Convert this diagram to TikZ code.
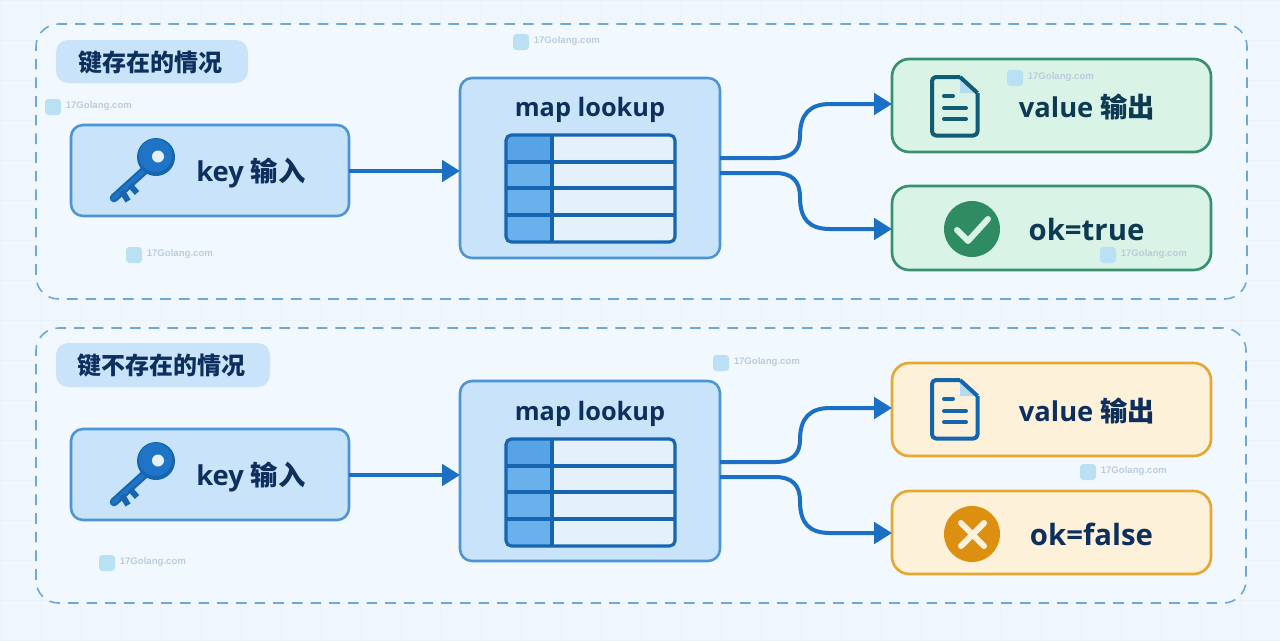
\documentclass[tikz,border=0pt]{standalone}
\usepackage{fontspec}
\setmainfont{Open Sans}
\newfontfamily\cjk{Noto Sans CJK SC}
\newfontfamily\wmfont{Liberation Sans}
\usetikzlibrary{arrows.meta,calc}
\definecolor{bgc}{HTML}{EFF6FD}
\definecolor{panelc}{HTML}{F2F8FF}
\definecolor{gridc}{HTML}{EAF2FA}
\definecolor{dashc}{HTML}{6BA8DE}
\definecolor{pillc}{HTML}{C8E3FA}
\definecolor{bluefill}{HTML}{C9E3FB}
\definecolor{blueline}{HTML}{4C94D6}
\definecolor{greenfill}{HTML}{D9F3E6}
\definecolor{greenline}{HTML}{38906D}
\definecolor{orangefill}{HTML}{FDF1DA}
\definecolor{orangeline}{HTML}{E6A830}
\definecolor{inkc}{HTML}{0D2F5E}
\definecolor{inkg}{HTML}{0C3A52}
\definecolor{wire}{HTML}{1B6FC4}
\definecolor{tabline}{HTML}{1565B0}
\definecolor{tabfill}{HTML}{E4F1FD}
\definecolor{colfill}{HTML}{69B0EC}
\definecolor{coltop}{HTML}{58A3E5}
\definecolor{keydark}{HTML}{1565B0}
\definecolor{keyfill}{HTML}{1F74C6}
\definecolor{docg}{HTML}{0F5C74}
\definecolor{docb}{HTML}{1464AE}
\definecolor{foldc}{HTML}{B5DBEE}
\definecolor{checkc}{HTML}{2E8B62}
\definecolor{crossc}{HTML}{DD9010}
\definecolor{wmtext}{HTML}{BCCCDC}
\definecolor{wmicon}{HTML}{B9E0F3}
\tikzset{
  x=0.75pt,y=-0.75pt,
  boxbase/.style={draw,inner sep=0pt,outer sep=0pt,rounded corners=9pt},
  panelbox/.style={boxbase,fill=panelc,draw=dashc,line width=1.2pt,dash pattern=on 8pt off 6pt,rounded corners=17pt},
  pillbox/.style={inner sep=0pt,outer sep=0pt,rounded corners=9pt,fill=pillc},
  bluebox/.style={boxbase,fill=bluefill,draw=blueline,line width=1.9pt},
  greenbox/.style={boxbase,fill=greenfill,draw=greenline,line width=2pt,rounded corners=13pt},
  orangebox/.style={boxbase,fill=orangefill,draw=orangeline,line width=2pt,rounded corners=13pt},
  lab/.style={inner sep=0pt,text=inkc,font=\bfseries\fontsize{20.5}{24}\selectfont},
  maplab/.style={inner sep=0pt,text=inkc,font=\bfseries\fontsize{19}{24}\selectfont},
  oklab/.style={inner sep=0pt,text=inkc,font=\bfseries\fontsize{22}{24}\selectfont},
  titlelab/.style={inner sep=0pt,text=inkc,font=\cjk\bfseries\fontsize{18}{22}\selectfont},
  wire line/.style={draw=wire,line width=3pt,-{Triangle[length=13.5pt,width=16pt]}},
  wmark/.style={inner sep=0pt,anchor=west,text=wmtext,font=\wmfont\bfseries\fontsize{7.2}{10}\selectfont},
}
\newcommand{\pxbox}[6]{%
  \node[#6,minimum width={(#4-#2)*0.75pt},minimum height={(#5-#3)*0.75pt}] (#1) at ({(#2+#4)/2},{(#3+#5)/2}) {};}
\newcommand{\keyicon}[1]{%
  \begin{scope}[yshift={#1*-0.75pt}]
    \draw[keydark,line width=6.4pt,line cap=round] (146,169) -- (114,198);
    \draw[keyfill,line width=3.2pt,line cap=round] (146,169) -- (114,198);
    \draw[keydark,line width=4.4pt] (122,191) -- (128,201);
    \draw[keydark,line width=4.4pt] (130,185) -- (137,193);
    \fill[keydark] (156,157) circle[radius=19];
    \fill[keyfill] (155.5,155.5) circle[radius=16.5];
    \fill[bluefill!50!white] (158,156.5) circle[radius=6];
  \end{scope}}
\newcommand{\tableicon}[1]{%
  \begin{scope}[yshift={#1*-0.75pt}]
    \fill[tabfill,rounded corners=4pt] (506,135) rectangle (675,242);
    \fill[colfill,rounded corners=4pt] (506,135) rectangle (552,242);
    \fill[coltop,rounded corners=4pt] (506,135) rectangle (552,162);
    \draw[tabline,line width=2.4pt] (552,135) -- (552,242);
    \draw[tabline,line width=2.4pt] (506,162) -- (675,162);
    \draw[tabline,line width=2.4pt] (506,188) -- (675,188);
    \draw[tabline,line width=2.4pt] (506,215) -- (675,215);
    \draw[tabline,line width=2.4pt,rounded corners=4pt] (506,135) rectangle (675,242);
  \end{scope}}
\newcommand{\docicon}[2]{%
  \begin{scope}[yshift={#1*-0.75pt}]
    \fill[foldc] (960,77) -- (977,93) -- (960,93) -- cycle;
    \draw[#2,line width=3pt,line join=round,rounded corners=3pt] (960,77) -- (932,77) -- (932,135.5) -- (977.5,135.5) -- (977.5,93);
    \draw[#2,line width=3pt,line join=round] (960,77) -- (977.5,93);
    \draw[#2,line width=3pt,line cap=round] (944,96) -- (953,96);
    \draw[#2,line width=3pt,line cap=round] (944,108) -- (966,108);
    \draw[#2,line width=3pt,line cap=round] (944,119) -- (966,119);
  \end{scope}}
\newcommand{\wm}[3]{%
  \fill[wmicon,rounded corners=2.5pt] (#1,#2) rectangle ({#1+16},{#2+16});
  \node[wmark] (#3) at ({#1+20.5},{#2+7}) {17Golang.com};}
\begin{document}
\begin{tikzpicture}
\useasboundingbox (0,0) rectangle (1280,640);
\fill[bgc] (0,0) rectangle (1280,640);
\foreach \gx in {0,40,...,1280} \draw[gridc,line width=0.5pt] (\gx,0) -- (\gx,640);
\foreach \gy in {0,40,...,640} \draw[gridc,line width=0.5pt] (0,\gy) -- (1280,\gy);

% panels
\pxbox{panelA}{36}{24}{1247}{299}{panelbox}
\pxbox{panelB}{36}{328}{1246}{603}{panelbox}
\pxbox{pillA}{56}{40}{248}{83}{pillbox}
\pxbox{pillB}{56}{343}{270}{387}{pillbox}
\node[titlelab] (titleA) at (150,62.5) {键存在的情况};
\node[titlelab] (titleB) at (161.5,365.5) {键不存在的情况};

% top row
\pxbox{keyA}{71}{125}{349}{216}{bluebox}
\pxbox{mapA}{460}{78}{720}{258}{bluebox}
\pxbox{valA}{892}{59}{1211}{152}{greenbox}
\pxbox{okA}{892}{186}{1211}{270}{greenbox}
\keyicon{0}
\tableicon{0}
\docicon{0}{docg}
\node[lab] (keyAt) at (251,173) {key {\cjk 输入}};
\node[maplab] (mapAt) at (590,110) {map lookup};
\node[lab,text=inkg] (valAt) at (1087,106.5) {value {\cjk 输出}};
\node[oklab,text=inkg] (okAt) at (1086.5,229.5) {ok=true};
\fill[checkc] (972,229) circle[radius=28];
\draw[greenfill,line width=4.5pt,line cap=round,line join=round] (957,230) -- (968,241) -- (988,219);

% bottom row
\pxbox{keyB}{71}{429}{349}{520}{bluebox}
\pxbox{mapB}{460}{381}{720}{561}{bluebox}
\pxbox{valB}{892}{363}{1211}{456}{orangebox}
\pxbox{okB}{892}{491}{1211}{574}{orangebox}
\keyicon{304}
\tableicon{304}
\docicon{303}{docb}
\node[lab] (keyBt) at (251,477) {key {\cjk 输入}};
\node[maplab] (mapBt) at (590,414) {map lookup};
\node[lab] (valBt) at (1087,410.5) {value {\cjk 输出}};
\node[oklab] (okBt) at (1091.5,534.5) {ok=false};
\fill[crossc] (972,534) circle[radius=28];
\draw[orangefill,line width=4.5pt,line cap=round] (961,523) -- (984,546);
\draw[orangefill,line width=4.5pt,line cap=round] (984,523) -- (961,546);

% connectors
\draw[wire line] (keyA.east |- 0,171) -- (mapA.west |- 0,171);
\draw[wire line] (keyB.east |- 0,475) -- (mapB.west |- 0,475);
\foreach \m/\v/\o/\dy in {mapA/valA/okA/0,mapB/valB/okB/304}{
  \draw[wire line] (\m.east |- 0,{158+\dy}) -- (775,{158+\dy})
     .. controls (792,{158+\dy}) and (800,{150+\dy}) .. (800,{136+\dy})
     .. controls (800,{114+\dy}) and (810,{104+\dy}) .. (830,{104+\dy})
     -- (\v.west |- 0,{104+\dy});
  \draw[wire line] (\m.east |- 0,{173+\dy}) -- (775,{173+\dy})
     .. controls (792,{173+\dy}) and (800,{181+\dy}) .. (800,{197+\dy})
     .. controls (800,{220+\dy}) and (810,{229+\dy}) .. (830,{229+\dy})
     -- (\o.west |- 0,{229+\dy});
}

% watermarks
\wm{513}{34}{wma}
\wm{45}{99}{wmb}
\wm{126}{247}{wmc}
\wm{1007}{70}{wmd}
\wm{1100}{247}{wme}
\wm{713}{355}{wmf}
\wm{1080}{464}{wmg}
\wm{99}{555}{wmh}
\end{tikzpicture}
\end{document}
